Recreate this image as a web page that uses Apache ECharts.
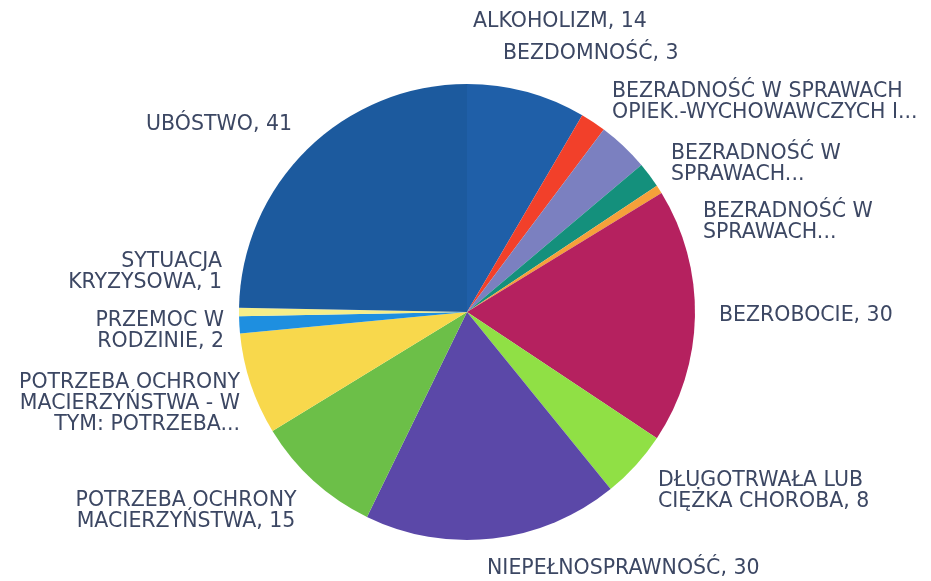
<!DOCTYPE html>
<html>
<head>
<meta charset="utf-8">
<script src="https://cdn.jsdelivr.net/npm/echarts@6/dist/echarts.min.js"></script>
<style>
  html, body { margin: 0; padding: 0; background: #fff; }
  #chart { width: 931px; height: 581px; }
</style>
</head>
<body>
<div id="chart"></div>
<script>
  // categories as printed on the chart (Excel truncated some of them)
  var categories = [
    'ALKOHOLIZM',
    'BEZDOMNOŚĆ',
    'BEZRADNOŚĆ W SPRAWACH\nOPIEK.-WYCHOWAWCZYCH I...',
    'BEZRADNOŚĆ W\nSPRAWACH...',
    'BEZRADNOŚĆ W\nSPRAWACH...',
    'BEZROBOCIE',
    'DŁUGOTRWAŁA LUB\nCIĘŻKA CHOROBA',
    'NIEPEŁNOSPRAWNOŚĆ',
    'POTRZEBA OCHRONY\nMACIERZYŃSTWA',
    'POTRZEBA OCHRONY\nMACIERZYŃSTWA - W\nTYM: POTRZEBA...',
    'PRZEMOC W\nRODZINIE',
    'SYTUACJA\nKRYZYSOWA',
    'UBÓSTWO'
  ];
  var values = [14, 3, 6, 3, 1, 30, 8, 30, 15, 12, 2, 1, 41];
  var colors = ['#1f5fa8', '#f2402a', '#7b80c0', '#14907c', '#f5a03a', '#b5215f', '#90e045',
                '#5b48a8', '#6cbf48', '#f8d84c', '#1e8fe0', '#f5ee8a', '#1c5a9e'];

  // where the data labels sit (x, y of anchor, text alignment)
  var labelPos = [
    [473, 22, 'left'], [503, 54, 'left'], [612, 102, 'left'], [671, 164, 'left'],
    [703, 222, 'left'], [719, 316, 'left'], [658, 491, 'left'], [487, 569, 'left'],
    [186, 511, 'center'], [240, 404, 'right'], [224, 331, 'right'], [222, 272, 'right'],
    [292, 125, 'right']
  ];

  var myChart = echarts.init(document.getElementById('chart'));
  var data = [];
  for (var i = 0; i < categories.length; i++) {
    data.push({ name: categories[i], value: values[i], itemStyle: { color: colors[i] } });
  }

  myChart.setOption({
    animation: false,
    series: [
      {
        type: 'pie',
        center: [467, 312],
        radius: 228,
        startAngle: 90,
        clockwise: true,
        avoidLabelOverlap: false,
        itemStyle: { borderWidth: 0 },
        label: {
          show: true,
          position: 'outside',
          color: '#3c4763',
          fontFamily: 'DejaVu Sans',
          fontSize: 20.5,
          lineHeight: 21,
          formatter: function (p) {
            if (p.name.slice(-3) === '...') {
              return p.name;
            }
            return p.name + ', ' + p.value;
          }
        },
        labelLine: { show: false },
        labelLayout: function (params) {
          var pos = labelPos[params.dataIndex];
          return { x: pos[0], y: pos[1], align: pos[2], verticalAlign: 'middle' };
        },
        data: data
      }
    ]
  });
</script>
</body>
</html>
